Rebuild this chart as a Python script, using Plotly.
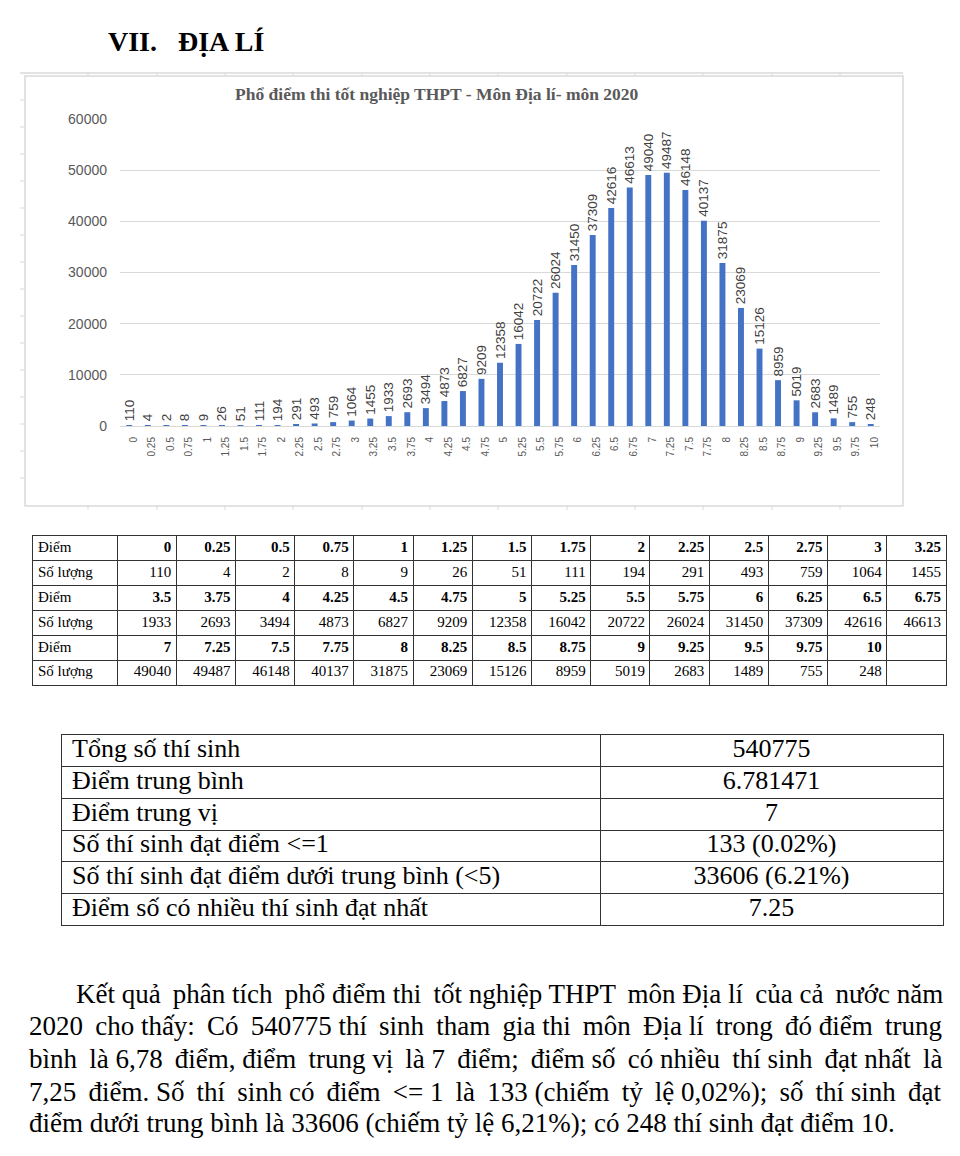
import plotly.graph_objects as go

# page body adds an 8px margin; size the figure so the page fits the window exactly
OFF = 8
W, H = 960 - OFF, 1131

# ---------------- data ----------------
scores = ["0", "0.25", "0.5", "0.75", "1", "1.25", "1.5", "1.75", "2", "2.25",
          "2.5", "2.75", "3", "3.25", "3.5", "3.75", "4", "4.25", "4.5", "4.75",
          "5", "5.25", "5.5", "5.75", "6", "6.25", "6.5", "6.75", "7", "7.25",
          "7.5", "7.75", "8", "8.25", "8.5", "8.75", "9", "9.25", "9.5", "9.75", "10"]
counts = [110, 4, 2, 8, 9, 26, 51, 111, 194, 291, 493, 759, 1064, 1455,
          1933, 2693, 3494, 4873, 6827, 9209, 12358, 16042, 20722, 26024, 31450, 37309, 42616, 46613,
          49040, 49487, 46148, 40137, 31875, 23069, 15126, 8959, 5019, 2683, 1489, 755, 248]

y_ticks = [0, 10000, 20000, 30000, 40000, 50000, 60000]

stats_labels = ["Tổng số thí sinh", "Điểm trung bình", "Điểm trung vị",
                "Số thí sinh đạt điểm &lt;=1", "Số thí sinh đạt điểm dưới trung bình (&lt;5)",
                "Điểm số có nhiều thí sinh đạt nhất"]
stats_values = ["540775", "6.781471", "7", "133 (0.02%)", "33606 (6.21%)", "7.25"]

heading_num = "VII."
heading_txt = "ĐỊA LÍ"
chart_title = "Phổ điểm thi tốt nghiệp THPT - Môn Địa lí- môn 2020"

paragraph = [
    "Kết quả phân tích phổ điểm thi tốt nghiệp THPT môn Địa lí của cả nước năm",
    "2020 cho thấy: Có 540775 thí sinh tham gia thi môn Địa lí trong đó điểm trung",
    "bình là 6,78 điểm, điểm trung vị là 7 điểm; điểm số có nhiều thí sinh đạt nhất là",
    "7,25 điểm. Số thí sinh có điểm &lt;= 1 là 133 (chiếm tỷ lệ 0,02%); số thí sinh đạt",
    "điểm dưới trung bình là 33606 (chiếm tỷ lệ 6,21%); có 248 thí sinh đạt điểm 10.",
]
# extra thin spaces per line to imitate the justified paragraph
justify_extra = [6, 11, 10, 12, 0]


def px(x):
    return (x - OFF) / W


def py(y):
    return 1 - (y - OFF) / H


SERIF = "Liberation Serif"
SANS = "Liberation Sans"
GRID = "#333333"

fig = go.Figure()

# ---------------- bar chart ----------------
fig.add_trace(go.Bar(
    x=scores, y=counts,
    marker=dict(color="#4472C4", line=dict(width=0)),
    text=["\u00a0" + str(c) for c in counts],
    textposition="outside",
    textangle=-90,
    constraintext="none",
    cliponaxis=False,
    textfont=dict(family=SANS, size=13.5, color="#404040"),
    hoverinfo="x+y",
    showlegend=False,
))

fig.update_layout(
    xaxis=dict(
        type="category", domain=[px(120), px(880)], anchor="y",
        tickangle=-90, tickfont=dict(family=SANS, size=10, color="#595959"),
        showgrid=False, zeroline=False, showline=False, ticks="",
        ticklabelstandoff=8, ticklabelshift=4, automargin=False,
    ),
    yaxis=dict(
        range=[0, 60000], domain=[py(426), py(119)], anchor="x",
        tickvals=y_ticks, ticktext=[str(v) for v in y_ticks],
        tickfont=dict(family=SANS, size=14, color="#595959"),
        showgrid=True, gridcolor="#d9d9d9", gridwidth=1,
        zeroline=True, zerolinecolor="#d9d9d9", zerolinewidth=1,
        showline=False, ticks="", ticklabelstandoff=12, automargin=False,
    ),
    bargap=0.68,
)


# ---------------- tables drawn on their own axes ----------------
def table_axes(xname, yname, left, right, top, bottom, col_widths, n_rows):
    bounds = [0]
    for w in col_widths:
        bounds.append(bounds[-1] + w)
    common = dict(showline=True, mirror=True, linecolor=GRID, linewidth=1,
                  showgrid=True, gridcolor=GRID, gridwidth=1, zeroline=False,
                  showticklabels=False, ticks="", fixedrange=True, automargin=False)
    fig.update_layout(**{
        xname: dict(domain=[px(left), px(right)], range=[0, bounds[-1]],
                    tickvals=bounds, anchor=yname.replace("axis", ""), **common),
        yname: dict(domain=[py(bottom), py(top)], range=[n_rows, 0],
                    tickvals=list(range(n_rows + 1)), anchor=xname.replace("axis", ""), **common),
    })
    return bounds


def table_text(xref, yref, bounds, rows, aligns, size, pad):
    xs, ys, ts, pos = [], [], [], []
    for r, row in enumerate(rows):
        for c, val in enumerate(row):
            if val == "":
                continue
            a = aligns[c]
            if a == "left":
                xs.append(bounds[c] + pad); pos.append("middle right")
            elif a == "right":
                xs.append(bounds[c + 1] - pad); pos.append("middle left")
            else:
                xs.append((bounds[c] + bounds[c + 1]) / 2); pos.append("middle center")
            ys.append(r + 0.5)
            ts.append(val)
    fig.add_trace(go.Scatter(
        x=xs, y=ys, text=ts, mode="text", textposition=pos,
        textfont=dict(family=SERIF, size=size, color="black"),
        xaxis=xref, yaxis=yref, hoverinfo="skip", showlegend=False, cliponaxis=False,
    ))


# data table
n_per = 14
grid = []
for i in range(0, len(scores), n_per):
    sc = scores[i:i + n_per]
    ct = [str(c) for c in counts[i:i + n_per]]
    sc = ["<b>" + s + "</b>" for s in sc] + [""] * (n_per - len(sc))
    ct = ct + [""] * (n_per - len(ct))
    grid.append(["Điểm"] + sc)
    grid.append(["Số lượng"] + ct)

data_cols = [84] + [59.2] * n_per
b2 = table_axes("xaxis2", "yaxis2", 33, 946, 536, 685, data_cols, len(grid))
table_text("x2", "y2", b2, grid, ["left"] + ["right"] * n_per, 15, 5)

# stats table
stats_rows = [[lab, val] for lab, val in zip(stats_labels, stats_values)]
b3 = table_axes("xaxis3", "yaxis3", 62, 943, 735, 925, [538, 343], len(stats_rows))
table_text("x3", "y3", b3, stats_rows, ["left", "center"], 26, 10)

# ---------------- decorations (chart frame) ----------------
shapes = [
    dict(type="rect", xref="paper", yref="paper", x0=px(25), x1=px(903), y0=py(506), y1=py(76),
         line=dict(color="#d9d9d9", width=1.5), layer="below"),
    dict(type="line", xref="paper", yref="paper", x0=px(20), x1=px(903), y0=py(73), y1=py(73),
         line=dict(color="#d9d9d9", width=1.5), layer="below"),
]
for xx in [88, 157, 225, 293, 362, 430, 498, 567, 635, 703, 772, 840]:
    shapes.append(dict(type="line", xref="paper", yref="paper", x0=px(xx), x1=px(xx),
                       y0=py(73), y1=py(76), line=dict(color="#d9d9d9", width=1), layer="below"))
    shapes.append(dict(type="line", xref="paper", yref="paper", x0=px(xx), x1=px(xx),
                       y0=py(506), y1=py(510), line=dict(color="#d9d9d9", width=1), layer="below"))
for yy in [100, 127, 154, 181, 208, 235, 262, 289, 316, 343, 370, 397, 424, 451, 478]:
    shapes.append(dict(type="line", xref="paper", yref="paper", x0=px(20), x1=px(25),
                       y0=py(yy), y1=py(yy), line=dict(color="#d9d9d9", width=1), layer="below"))

annotations = [
    dict(text="<b>" + heading_num + "</b>", x=px(106), y=py(42), xref="paper", yref="paper",
         xanchor="left", yanchor="middle", showarrow=False,
         font=dict(family=SERIF, size=28, color="black")),
    dict(text="<b>" + heading_txt + "</b>", x=px(176), y=py(42), xref="paper", yref="paper",
         xanchor="left", yanchor="middle", showarrow=False,
         font=dict(family=SERIF, size=28, color="black")),
    dict(text="<b>" + chart_title + "</b>", x=px(437), y=py(94), xref="paper", yref="paper",
         xanchor="center", yanchor="middle", showarrow=False,
         font=dict(family=SERIF, size=17.5, color="#595959")),
]


def justify(line, n_extra):
    words = line.split(" ")
    gaps = len(words) - 1
    if n_extra <= 0 or gaps <= 0:
        return line
    out = words[0]
    given = 0
    for k in range(1, len(words)):
        target = round(n_extra * k / gaps)
        extra = target - given
        given = target
        out += " " + "\u2009" * extra + words[k]
    return out


para_y = [994, 1026, 1059, 1092, 1123]
for i, (line, yy) in enumerate(zip(paragraph, para_y)):
    annotations.append(dict(text=justify(line, justify_extra[i]), x=px(74 if i == 0 else 27), y=py(yy),
                            xref="paper", yref="paper", xanchor="left", yanchor="middle",
                            showarrow=False, font=dict(family=SERIF, size=27, color="black")))

fig.update_layout(
    width=W, height=H, margin=dict(l=0, r=0, t=0, b=0),
    paper_bgcolor="white", plot_bgcolor="white",
    shapes=shapes, annotations=annotations, showlegend=False,
)

fig.write_html("out.html")
